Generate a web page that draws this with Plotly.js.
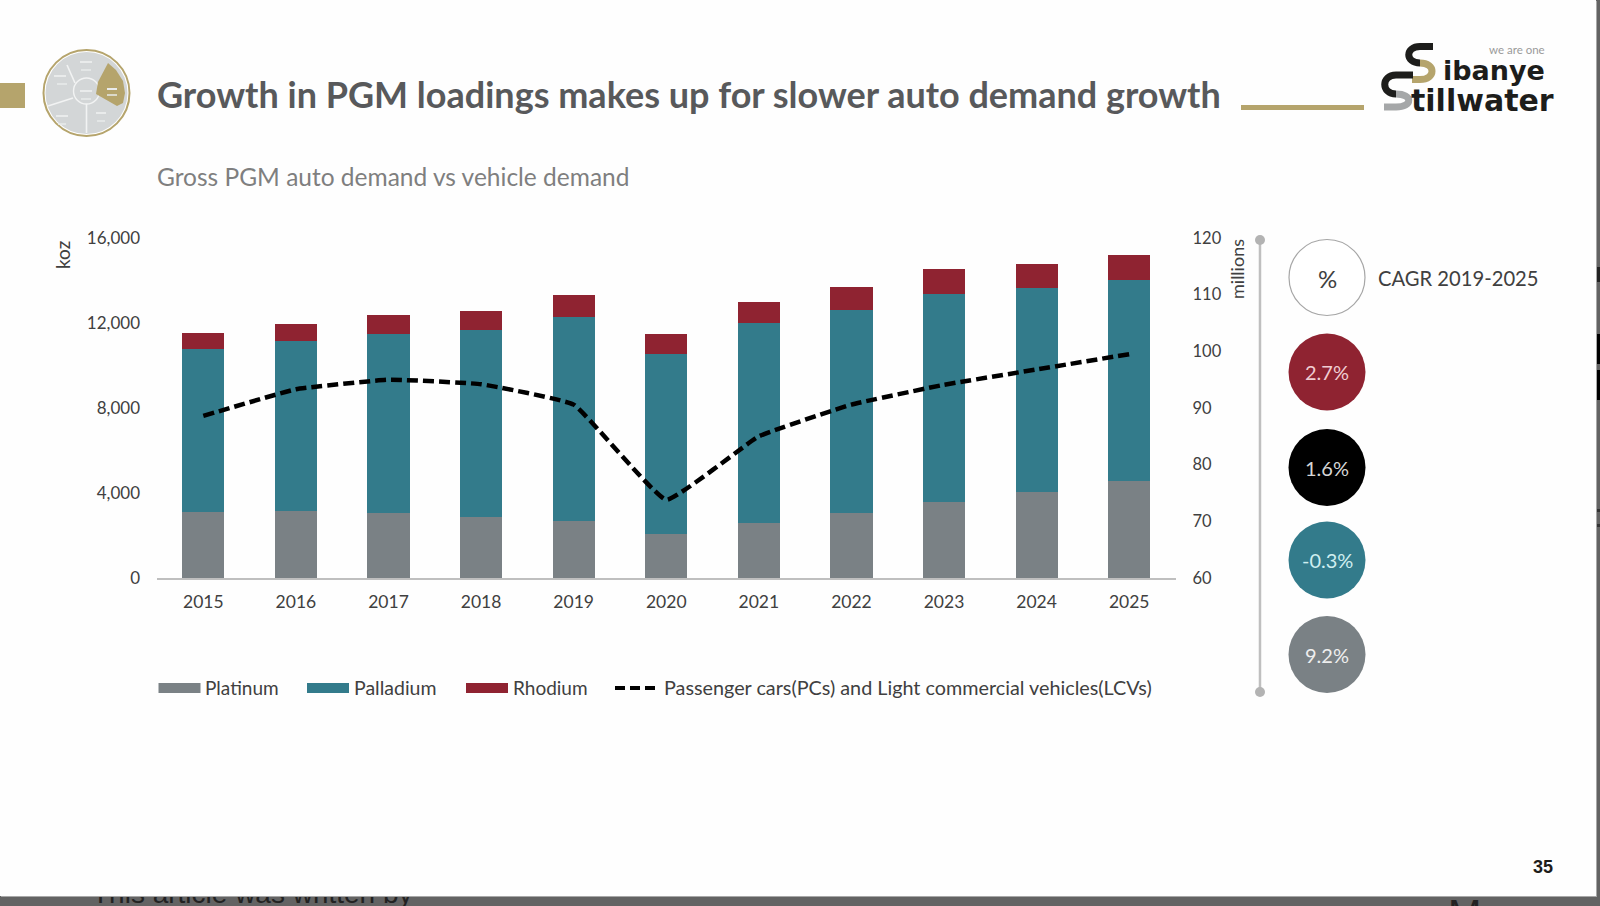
<!DOCTYPE html>
<html>
<head>
<meta charset="utf-8">
<script src="https://cdn.plot.ly/plotly-3.0.1.min.js"></script>
<style>
  html, body { margin: 0; padding: 0; width: 1600px; height: 906px; overflow: hidden; background: #636363; }
  #chart { position: absolute; left: 0; top: 0; width: 1596px; height: 896px; z-index: 2; box-shadow: 1px 1px 0 #a8a8a8; }
  .under { position: absolute; z-index: 1; font-family: "Liberation Sans", sans-serif; color: #222; white-space: nowrap; }
  .patch { position: absolute; z-index: 1; background: #000; left: 1597px; width: 3px; }
</style>
</head>
<body>
<div class="under" style="left:92px; top:878px; font-size:28px;">This article was written by</div>
<div class="under" style="left:1448px; top:892px; font-size:40px;">M</div>
<div class="patch" style="top:334px; height:30px;"></div>
<div class="patch" style="top:370px; height:30px;"></div>
<div class="patch" style="top:267px; height:15px; background:#222;"></div>
<div class="patch" style="top:509px; height:3px; background:#333;"></div>
<div class="patch" style="top:524px; height:3px; background:#333;"></div>
<div id="chart"></div>
<script>
// ----- data -----
const years = ["2015","2016","2017","2018","2019","2020","2021","2022","2023","2024","2025"];
const platinum = [3105, 3150, 3060, 2855, 2670, 2085, 2605, 3075, 3575, 4050, 4565];
const palladium = [7675, 8020, 8440, 8835, 9630, 8455, 9385, 9555, 9795, 9590, 9445];
const rhodium = [750, 800, 860, 880, 1040, 930, 1000, 1070, 1160, 1160, 1190];
const vehicles = [88.6, 93.3, 95.0, 94.2, 90.6, 73.8, 85.0, 90.6, 94.1, 96.8, 99.5];
const cagrLabels = ["2.7%", "1.6%", "-0.3%", "9.2%"];
const leftTicks = [0, 4000, 8000, 12000, 16000];
const leftTickText = ["0", "4,000", "8,000", "12,000", "16,000"];
const rightTicks = [60, 70, 80, 90, 100, 110, 120];

// ----- styles -----
const W = 1596, H = 896;
const GREY = "#7a8185", TEAL = "#337b8b", RED = "#8f2331", GOLD = "#b5a46c", AXIS = "#bfbfbf", INK = "#1d1d1b";
const FONT = "Lato, 'Open Sans', sans-serif";
const X = p => p / W;
const Y = p => 1 - p / H;
const P = p => X(p[0]).toFixed(5) + "," + Y(p[1]).toFixed(5);

const pathOf = (pts, close) => pts.map((p, i) => (i ? "L" : "M") + P(p)).join(" ") + (close ? " Z" : "");

const shapes = [];
const rect = (x0, y0, x1, y1, color) => shapes.push({type:"rect", xref:"paper", yref:"paper", x0:X(x0), x1:X(x1), y0:Y(y0), y1:Y(y1), fillcolor:color, line:{width:0}});
const circle = (cx, cy, r, fill, lineColor, lw) => shapes.push({type:"circle", xref:"paper", yref:"paper", x0:X(cx-r), x1:X(cx+r), y0:Y(cy+r), y1:Y(cy-r), fillcolor:fill, line:{color:lineColor||fill, width:lw||0}});
const poly = (pts, fill) => shapes.push({type:"path", xref:"paper", yref:"paper", path:pathOf(pts, true), fillcolor:fill, line:{width:0}});
const stroke = (pts, color, w, dash) => shapes.push({type:"path", xref:"paper", yref:"paper", path:pathOf(pts, false), line:{color:color, width:w, dash:dash||"solid"}});
// glyph(start, [c1,c2,end] or [end] segments...) draws one stroke of the logo's S shapes
const glyph = (start, segs, color, w) => shapes.push({type:"path", xref:"paper", yref:"paper",
  path:"M" + P(start) + " " + segs.map(s => s.length === 3 ? "C" + s.map(P).join(" ") : "L" + P(s[0])).join(" "),
  line:{color:color, width:w}});

const annotations = [];
const label = (text, x, y, size, color, opts) => annotations.push(Object.assign({
  text: text, xref:"paper", yref:"paper", x:X(x), y:Y(y), xanchor:"left", yanchor:"middle",
  showarrow:false, font:{family:FONT, size:size, color:color}
}, opts||{}));

// header decorations
rect(0, 83, 25, 108, GOLD);
circle(86.5, 93, 43, "#ffffff", GOLD, 2);
circle(86.5, 93, 41, "#d3d6d7");
stroke([[67,65],[75,83]], "#f2f3f3", 1.6);
stroke([[48,106],[73,98]], "#f2f3f3", 1.6);
stroke([[86.5,104],[86.5,133]], "#f2f3f3", 1.6);
circle(86.5, 91, 13, "rgba(0,0,0,0)", "#f2f3f3", 1.4);
poly([[108,63],[116,70],[123,81],[125,93],[123,103],[117,106],[96,94],[98,82]], GOLD);
[[86,62,6],[60,76,6],[86,91,6],[62,116,6],[101,113,5],[112,89,5]].forEach(m => stroke([[m[0]-m[2],m[1]],[m[0]+m[2],m[1]]], "#e9ebeb", 2));
[[86,70,5],[62,84,5],[86,99,5],[62,124,4],[101,121,4],[112,95,5]].forEach(m => stroke([[m[0]-m[2],m[1]],[m[0]+m[2],m[1]]], "#e9ebeb", 1.5));
stroke([[1241,107.5],[1364,107.5]], GOLD, 5);

// logo glyphs
glyph([1433,46.5], [[[1420,46.5]], [[1405,46.5],[1405,63],[1420,63]]], INK, 7);
glyph([1420,63], [[[1436,63],[1436,79.5],[1420,79.5]], [[1412,79.5]]], GOLD, 7);
glyph([1413,75], [[[1396,75]], [[1381,75],[1381,94],[1396,94]]], INK, 7);
glyph([1396,94], [[[1413,94],[1413,107],[1396,107]], [[1384,107]]], "#a5a7a8", 7);

label("ibanye", 1441, 71, 27, INK, {font:{family:"'DejaVu Sans', sans-serif", size:27, color:INK, weight:700}});
label("tillwater", 1409, 100, 30, INK, {font:{family:"'DejaVu Sans', sans-serif", size:30, color:INK, weight:700}});
label("we are one", 1487, 50, 11.5, "#9a9a9a");

// titles
label("Growth in PGM loadings makes up for slower auto demand growth", 155, 94, 36, "#58595b", {font:{family:FONT, size:36, color:"#58595b", weight:700}});
label("Gross PGM auto demand vs vehicle demand", 155, 177, 24.5, "#7f7f7f");
label("35", 1531, 867, 18, INK, {font:{family:"'Liberation Sans', sans-serif", size:18, color:INK, weight:700}});

// axis captions
label("koz", 62, 255, 19, "#404040", {textangle:-90, xanchor:"center"});
label("millions", 1237, 269, 18, "#404040", {textangle:-90, xanchor:"center"});

// legend
const swatch = (x0, color, name, tx, size) => { rect(x0, 683, x0+42, 693, color); label(name, tx, 687, size, "#404040"); };
swatch(158.5, GREY, "Platinum", 203, 19);
swatch(307, TEAL, "Palladium", 352, 19.5);
swatch(466, RED, "Rhodium", 511, 19);
stroke([[615,688],[658,688]], "#000", 4, "10px,5px");
label("Passenger cars(PCs) and Light commercial vehicles(LCVs)", 662, 687, 19.8, "#404040");

// CAGR panel
stroke([[1260,240],[1260,692]], AXIS, 2.5);
circle(1260, 240, 5, "#b3b3b3");
circle(1260, 692, 5, "#b3b3b3");
circle(1327, 277.5, 38, "#ffffff", "#a6a6a6", 1.2);
label("%", 1327, 278, 24, "#404040", {xanchor:"center"});
label("CAGR 2019-2025", 1376, 278, 20.2, "#404040");
const cagrFill = [RED, "#000000", TEAL, GREY];
const cagrText = ["#f0cdd2", "#d6d6d6", "#cfeef0", "#eeeeee"];
const cagrY = [372, 467.5, 560, 654.5];
cagrLabels.forEach((t, i) => { circle(1327, cagrY[i], 38.5, cagrFill[i]); label(t, 1327, cagrY[i], 20, cagrText[i], {xanchor:"center"}); });

// ----- traces -----
const bar = (name, y, color) => ({type:"bar", name:name, x:years, y:y, marker:{color:color, line:{width:0}}});
const traces = [
  bar("Platinum", platinum, GREY),
  bar("Palladium", palladium, TEAL),
  bar("Rhodium", rhodium, RED),
  {type:"scatter", mode:"lines", name:"Passenger cars(PCs) and Light commercial vehicles(LCVs)", x:years, y:vehicles, yaxis:"y2",
   line:{color:"#000", width:4.5, dash:"11px,5px", shape:"spline", smoothing:0.3}}
];

const layout = {
  width: W, height: H,
  margin: {l:0, r:0, t:0, b:0},
  paper_bgcolor: "#fefefe", plot_bgcolor: "rgba(0,0,0,0)",
  barmode: "stack", bargap: 0.545,
  showlegend: false,
  font: {family: FONT, color: "#404040", size: 18},
  xaxis: {
    type:"category", domain:[X(157), X(1175.5)], showgrid:false, zeroline:false,
    showline:true, linecolor:AXIS, linewidth:1.5, ticks:"", ticklabelstandoff:7,
    tickfont:{family:FONT, size:17.5, color:"#404040"}
  },
  yaxis: {
    domain:[Y(578), Y(238)], range:[0,16000], tickvals:leftTicks, ticktext:leftTickText,
    showgrid:false, zeroline:false, showline:false, ticks:"", ticklabelstandoff:16,
    tickfont:{family:FONT, size:17, color:"#404040"}
  },
  yaxis2: {
    domain:[Y(578), Y(238)], overlaying:"y", side:"right", range:[60,120], tickvals:rightTicks,
    showgrid:false, zeroline:false, showline:false, ticks:"", ticklabelstandoff:16,
    tickfont:{family:FONT, size:16.5, color:"#404040"}
  },
  shapes: shapes,
  annotations: annotations
};

Plotly.newPlot("chart", traces, layout, {displayModeBar:false, staticPlot:true});
</script>
</body>
</html>
